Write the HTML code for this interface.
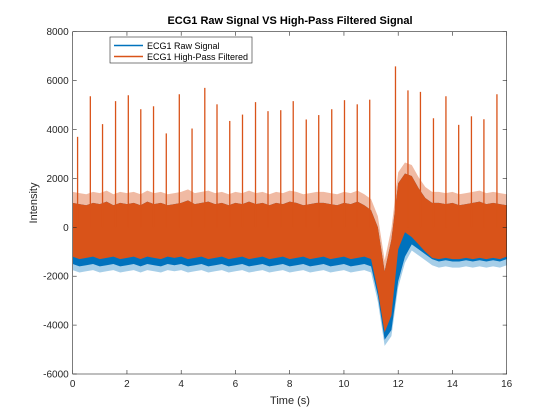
<!DOCTYPE html>
<html><head><meta charset="utf-8"><style>
body{margin:0;background:#fff;}
svg{display:block;font-family:"Liberation Sans",Arial,sans-serif;}
</style></head><body>
<svg id="chart" width="560" height="420">
<rect x="0" y="0" width="560" height="420" fill="#fff"/>
<g id="plot"></g>
</svg>
<script>
const tBins=[0,0.25,0.5,0.75,1,1.25,1.5,1.75,2,2.25,2.5,2.75,3,3.25,3.5,3.75,4,4.25,4.5,4.75,5,5.25,5.5,5.75,6,6.25,6.5,6.75,7,7.25,7.5,7.75,8,8.25,8.5,8.75,9,9.25,9.5,9.75,10,10.25,10.5,10.75,11,11.25,11.5,11.75,12,12.25,12.5,12.75,13,13.25,13.5,13.75,14,14.25,14.5,14.75,15,15.25,15.5,15.75,16];
const hiOrange=[1000,950,900,1000,950,1050,900,1000,950,1000,900,1050,950,1000,900,950,1000,1100,950,1000,1050,950,1000,900,1000,950,1050,950,1000,900,1000,950,1050,1000,900,950,1000,1000,950,900,1000,950,1050,900,700,0,-1800,-500,1800,2200,2100,1600,1200,1000,1000,950,1000,900,950,1000,1050,950,1000,950,900];
const loOrange=[-1200,-1300,-1250,-1200,-1300,-1250,-1200,-1300,-1250,-1200,-1300,-1200,-1250,-1300,-1200,-1250,-1200,-1300,-1250,-1200,-1300,-1250,-1200,-1300,-1250,-1200,-1300,-1250,-1200,-1300,-1250,-1200,-1300,-1250,-1200,-1300,-1250,-1200,-1300,-1250,-1200,-1300,-1250,-1200,-1300,-2600,-4300,-3600,-900,-200,-400,-700,-1000,-1250,-1300,-1250,-1300,-1300,-1250,-1300,-1250,-1300,-1250,-1300,-1200];
const loBlue=[-1500,-1600,-1550,-1500,-1600,-1550,-1500,-1600,-1550,-1500,-1600,-1500,-1550,-1600,-1500,-1550,-1500,-1600,-1550,-1500,-1600,-1550,-1500,-1600,-1550,-1500,-1600,-1550,-1500,-1600,-1550,-1500,-1600,-1550,-1500,-1600,-1550,-1500,-1600,-1550,-1500,-1600,-1550,-1500,-1600,-2800,-4600,-4200,-2200,-1200,-700,-900,-1100,-1300,-1400,-1350,-1400,-1400,-1350,-1400,-1350,-1400,-1350,-1400,-1300];
const peakTimes=[0.18,0.65,1.1,1.58,2.05,2.51,2.98,3.45,3.93,4.4,4.87,5.32,5.79,6.26,6.74,7.2,7.67,8.13,8.61,9.07,9.55,10.02,10.49,10.95,11.9,12.36,12.82,13.3,13.76,14.23,14.7,15.16,15.64];
const peakVals=[3700,5360,4220,5160,5400,4830,4950,3840,5440,4040,5700,5030,4350,4610,5120,4750,4790,5160,4410,4590,4830,5200,5030,5220,6580,5600,5540,4460,5360,4190,4540,4420,5440];
const xTicks=[0,2,4,6,8,10,12,14,16];
const yTicks=[-6000,-4000,-2000,0,2000,4000,6000,8000];
const X0=72.7,X1=506.7,Y0=374,Y1=31.7;
const xs=t=>X0+(t/16)*(X1-X0);
const ys=v=>Y0-(v+6000)/14000*(Y0-Y1);
const NS="http://www.w3.org/2000/svg";
const g=document.getElementById('plot');
function mk(tag,attrs,parent){const e=document.createElementNS(NS,tag);for(const k in attrs)e.setAttribute(k,attrs[k]);(parent||g).appendChild(e);return e;}
function band(hi,lo,dh,dl){
 return tBins.map((t,i)=>xs(t)+','+ys(hi[i]+dh)).join(' ')+' '+tBins.slice().reverse().map((t,j)=>{const i=tBins.length-1-j;return xs(t)+','+ys(lo[i]-dl);}).join(' ');
}
const blueHalo=mk('polygon',{points:band(hiOrange,loBlue,0,250),fill:'#0072BD','fill-opacity':0.35});


const blue=mk('polygon',{points:band(hiOrange,loBlue,0,0),fill:'#0072BD'});


const halo=mk('polygon',{points:band(hiOrange,hiOrange,450,0),fill:'#D95319','fill-opacity':0.4});


const orange=mk('polygon',{points:band(hiOrange,loOrange,0,0),fill:'#D95319'});


peakTimes.forEach((t,i)=>{
 const l=mk('line',{x1:xs(t),x2:xs(t),y1:ys(0),y2:ys(peakVals[i]),stroke:'#D95319','stroke-width':1.3});
 
 
});
const box=mk('rect',{x:X0,y:Y1,width:X1-X0,height:Y0-Y1,fill:'none',stroke:'#262626','stroke-width':0.6});


xTicks.forEach(v=>{
 const x=xs(v);
 mk('line',{x1:x,x2:x,y1:Y0,y2:Y0-4,stroke:'#262626','stroke-width':0.6});
 mk('line',{x1:x,x2:x,y1:Y1,y2:Y1+4,stroke:'#262626','stroke-width':0.6});
 const tx=mk('text',{x:x,y:Y0+13,'font-size':10,'text-anchor':'middle',fill:'#262626'});tx.textContent=v;
 
 
});
yTicks.forEach(v=>{
 const y=ys(v);
 mk('line',{x1:X0,x2:X0+4,y1:y,y2:y,stroke:'#262626','stroke-width':0.6});
 mk('line',{x1:X1,x2:X1-4,y1:y,y2:y,stroke:'#262626','stroke-width':0.6});
 const tx=mk('text',{x:X0-4,y:y+3.5,'font-size':10,'text-anchor':'end',fill:'#262626'});tx.textContent=v;
 
 
});
</script>
<div style="position:absolute;left:0;top:0;width:560px;height:420px;pointer-events:none;">
<svg width="560" height="420" style="font-family:'Liberation Sans',Arial,sans-serif;">
<text x="290" y="24" font-size="11" font-weight="bold" text-anchor="middle" fill="#000">ECG1 Raw Signal VS High-Pass Filtered Signal</text>
<text x="290" y="404" font-size="11" text-anchor="middle" fill="#262626">Time (s)</text>
<text x="0" y="0" font-size="11" text-anchor="middle" fill="#262626" transform="translate(37,203) rotate(-90)">Intensity</text>
<g>
<rect x="110" y="37" width="142" height="26" fill="#fff" stroke="#262626" stroke-width="0.6"/>
<line x1="114" x2="143" y1="45.5" y2="45.5" stroke="#0072BD" stroke-width="1.4"/>
<text x="147" y="49" font-size="9" fill="#000">ECG1 Raw Signal</text>
<line x1="114" x2="143" y1="56.5" y2="56.5" stroke="#D95319" stroke-width="1.4"/>
<text x="147" y="60" font-size="9" fill="#000">ECG1 High-Pass Filtered</text>
</g>
</svg></div>
</body></html>
